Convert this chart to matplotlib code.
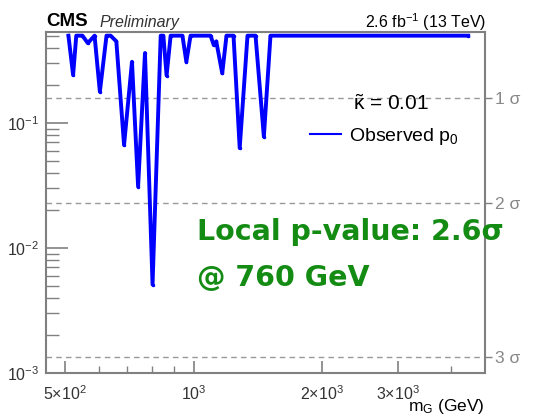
import numpy as np
import matplotlib
matplotlib.use("Agg")
import matplotlib.pyplot as plt
from matplotlib.ticker import FixedLocator, NullFormatter, LogLocator

plt.rcParams['font.family'] = ['Liberation Sans', 'DejaVu Sans']
plt.rcParams['mathtext.fontset'] = 'custom'
plt.rcParams['mathtext.rm'] = 'Liberation Sans'
plt.rcParams['mathtext.it'] = 'Liberation Sans:italic'
plt.rcParams['mathtext.bf'] = 'Liberation Sans:bold'

# Observed local p0 vs resonance mass (GeV)
mass = [510, 523, 532, 550, 566, 587, 604, 626, 640, 660, 688, 718, 742,
        770, 802, 838, 850, 865, 884, 942, 962, 984, 1096, 1115, 1130,
        1167, 1194, 1240, 1282, 1337, 1396, 1460, 1513, 4385]
p0 = [0.5, 0.242, 0.5, 0.5, 0.436, 0.5, 0.178, 0.5, 0.5, 0.45, 0.0667,
      0.309, 0.031, 0.363, 0.0051, 0.5, 0.5, 0.24, 0.5, 0.5, 0.309, 0.5,
      0.5, 0.42, 0.45, 0.25, 0.5, 0.5, 0.063, 0.5, 0.5, 0.0777, 0.5, 0.5]

sigma_p = [0.1587, 0.02275, 0.00135]
sigma_labels = ["1 σ", "2 σ", "3 σ"]

xticks = [500, 1000, 2000, 3000]
xticklabels = [r"5$\times$10$^{2}$", r"10$^{3}$", r"2$\times$10$^{3}$", r"3$\times$10$^{3}$"]
yticks = [1e-3, 1e-2, 1e-1]
yticklabels = [r"10$^{-3}$", r"10$^{-2}$", r"10$^{-1}$"]

fig = plt.figure(figsize=(5.57, 4.19), dpi=100)
ax = fig.add_axes([46/557, 1-373/419, (485-46)/557, (373-32)/419])

ax.set_xscale('log')
ax.set_yscale('log')
ax.set_xlim(452, 4800)
ax.set_ylim(1e-3, 0.535)

for p in sigma_p:
    ax.axhline(p, color='#999999', lw=1.0, ls=(0, (4, 3)), zorder=1)

line, = ax.plot(mass, p0, color='#0000ff', lw=2.8, zorder=3,
                marker='.', ms=3, label=r'Observed p$_{\mathrm{0}}$')

gray = '#808080'
for s in ax.spines.values():
    s.set_color(gray)
    s.set_linewidth(1.5)

ax.xaxis.set_major_locator(FixedLocator(xticks))
ax.set_xticklabels(xticklabels)
ax.xaxis.set_minor_locator(FixedLocator([600, 700, 800, 900, 4000]))
ax.xaxis.set_minor_formatter(NullFormatter())
ax.yaxis.set_major_locator(FixedLocator(yticks))
ax.set_yticklabels(yticklabels)
ax.yaxis.set_minor_locator(LogLocator(base=10, subs=np.arange(2, 10)))
ax.yaxis.set_minor_formatter(NullFormatter())
ax.tick_params(axis='both', which='major', direction='in', length=16,
               width=1.2, color=gray, labelsize=11.5, labelcolor='#333333')
ax.tick_params(axis='both', which='minor', direction='in', length=9,
               width=1.0, color=gray)
ax.tick_params(axis='x', which='major', length=9, pad=8)
ax.tick_params(axis='y', which='major', pad=5)
ax.tick_params(axis='x', which='minor', length=5)
ax.tick_params(top=False, right=False, which='both')

ax2 = ax.twinx()
ax2.set_yscale('log')
ax2.set_ylim(ax.get_ylim())
ax2.yaxis.set_major_locator(FixedLocator(sigma_p))
ax2.set_yticklabels(sigma_labels)
ax2.yaxis.set_minor_locator(FixedLocator([]))
ax2.tick_params(axis='y', which='major', direction='out', length=5,
                width=1.0, color=gray, labelsize=12.5, labelcolor='#888888', pad=2)
for s in ax2.spines.values():
    s.set_visible(False)

fig.text(485/557, 1-406/419, r"m$_{\mathrm{G}}$ (GeV)", fontsize=12.5, ha='right', va='center')

fig.text(46/557, 1-22/419, "CMS", fontsize=13.5, fontweight='bold', va='center', ha='left')
fig.text(100/557, 1-22/419, "Preliminary", fontsize=11.5, style='italic', va='center',
         ha='left', color='#333333')
fig.text(486/557, 1-22/419, r"2.6 fb$^{-1}$ (13 TeV)", fontsize=11.5, va='center', ha='right')

ax.text(0.785, 0.79, r"$\tilde{\mathrm{\kappa}}$ = 0.01", transform=ax.transAxes,
        fontsize=15, ha='center', va='center')
leg = ax.legend(handles=[line], loc='center left', bbox_to_anchor=(0.58, 0.695),
                frameon=False, fontsize=14, handlelength=1.6, handletextpad=0.4,
                borderpad=0)
leg.legend_handles[0].set_marker('')
leg.legend_handles[0].set_linewidth(1.5)

fig.text(197/557, 1-232/419, "Local p-value: 2.6σ", fontsize=20.5, fontweight='bold',
         color='#148c14', family='DejaVu Sans', va='center', ha='left')
fig.text(197/557, 1-278/419, "@ 760 GeV", fontsize=20.5, fontweight='bold',
         color='#148c14', family='DejaVu Sans', va='center', ha='left')

fig.savefig("out.png", dpi=100)
